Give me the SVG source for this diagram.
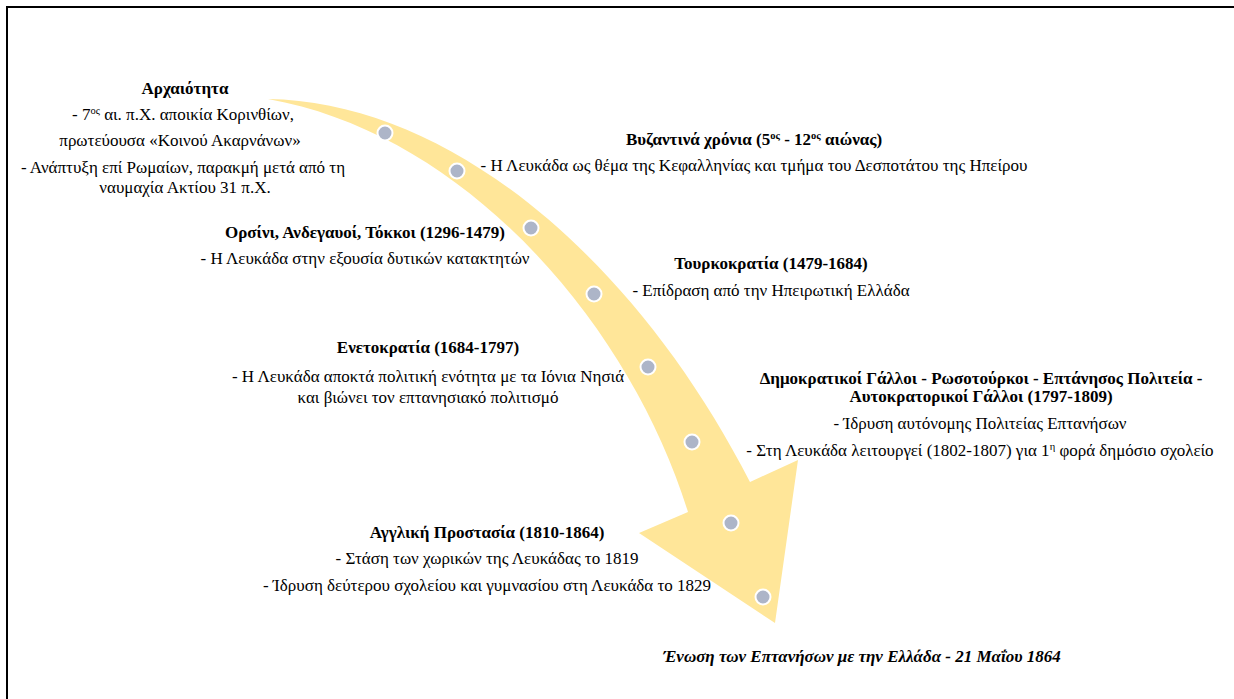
<svg xmlns="http://www.w3.org/2000/svg" width="1234" height="699" viewBox="0 0 1234 699">
<style>
text{font-family:"Liberation Serif","Times New Roman",serif;font-size:17px;fill:#000;text-anchor:middle}
.h{font-weight:bold}
.hi{font-weight:bold;font-style:italic}
.dot{fill:#ADB5C8;stroke:#fff;stroke-width:2}
.sup{font-size:10.5px}
</style>
<rect x="0" y="0" width="1234" height="699" fill="#fff"/>
<rect x="7" y="7" width="1240" height="700" fill="none" stroke="#000" stroke-width="2"/>
<g id="connectors">
<path id="arrow" d="M268,99 C450,102 635,258 750,482 L798,460 L775,623 L639,533 L688,512 C632,330 470,135 268,99 Z" fill="#FFE699"/>
<circle class="dot" cx="385" cy="133" r="7.5"/>
<circle class="dot" cx="457" cy="171" r="7.5"/>
<circle class="dot" cx="531" cy="228" r="7.5"/>
<circle class="dot" cx="594" cy="294" r="7.5"/>
<circle class="dot" cx="648" cy="367" r="7.5"/>
<circle class="dot" cx="692" cy="442" r="7.5"/>
<circle class="dot" cx="731" cy="523" r="7.5"/>
<circle class="dot" cx="763" cy="597" r="7.5"/>
</g>
<g id="n1">
<text class="h" x="185" y="94">Αρχαιότητα</text>
<text x="183" y="120">- 7<tspan class="sup" dy="-6">ος</tspan><tspan dy="6"> αι. π.Χ. αποικία Κορινθίων,</tspan></text>
<text x="180" y="146">πρωτεύουσα «Κοινού Ακαρνάνων»</text>
<text x="183" y="173">- Ανάπτυξη επί Ρωμαίων, παρακμή μετά από τη</text>
<text x="185" y="193">ναυμαχία Ακτίου 31 π.Χ.</text>
</g>
<g id="n2">
<text class="h" x="754" y="145">Βυζαντινά χρόνια (5<tspan class="sup" dy="-6">ος</tspan><tspan dy="6"> - 12</tspan><tspan class="sup" dy="-6">ος</tspan><tspan dy="6"> αιώνας)</tspan></text>
<text x="754" y="171">- Η Λευκάδα ως θέμα της Κεφαλληνίας και τμήμα του Δεσποτάτου της Ηπείρου</text>
</g>
<g id="n3">
<text class="h" x="365" y="238">Ορσίνι, Ανδεγαυοί, Τόκκοι (1296-1479)</text>
<text x="365" y="264">- Η Λευκάδα στην εξουσία δυτικών κατακτητών</text>
</g>
<g id="n4">
<text class="h" x="771" y="269">Τουρκοκρατία (1479-1684)</text>
<text x="771" y="296">- Επίδραση από την Ηπειρωτική Ελλάδα</text>
</g>
<g id="n5">
<text class="h" x="428" y="353">Ενετοκρατία (1684-1797)</text>
<text x="428" y="382">- Η Λευκάδα αποκτά πολιτική ενότητα με τα Ιόνια Νησιά</text>
<text x="428" y="403">και βιώνει τον επτανησιακό πολιτισμό</text>
</g>
<g id="n6">
<text class="h" x="981" y="384">Δημοκρατικοί Γάλλοι - Ρωσοτούρκοι - Επτάνησος Πολιτεία -</text>
<text class="h" x="981" y="402">Αυτοκρατορικοί Γάλλοι (1797-1809)</text>
<text x="980" y="429">- Ίδρυση αυτόνομης Πολιτείας Επτανήσων</text>
<text x="980" y="456">- Στη Λευκάδα λειτουργεί (1802-1807) για 1<tspan class="sup" dy="-6">η</tspan><tspan dy="6"> φορά δημόσιο σχολείο</tspan></text>
</g>
<g id="n7">
<text class="h" x="487" y="538">Αγγλική Προστασία (1810-1864)</text>
<text x="487" y="564">- Στάση των χωρικών της Λευκάδας το 1819</text>
<text x="487" y="591">- Ίδρυση δεύτερου σχολείου και γυμνασίου στη Λευκάδα το 1829</text>
</g>
<g id="n8">
<text class="hi" x="862" y="662">Ένωση των Επτανήσων με την Ελλάδα - 21 Μαΐου 1864</text>
</g>
</svg>
